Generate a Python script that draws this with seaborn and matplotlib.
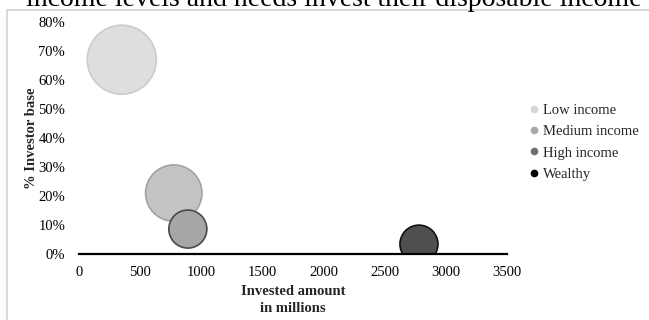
import matplotlib
matplotlib.use("Agg")
import matplotlib.pyplot as plt
import seaborn as sns
import pandas as pd
from matplotlib.ticker import PercentFormatter
from matplotlib.lines import Line2D

categories = ["Low income", "Medium income", "High income", "Wealthy"]
invested = [350, 775, 890, 2780]
investor_pct = [67, 21, 8.6, 3.4]
bubble_size = [33, 22, 10, 10]
fill_colors = ["#dedede", "#c4c4c4", "#a6a6a6", "#4f4f4f"]
edge_colors = ["#cccccc", "#a3a3a3", "#4a4a4a", "#111111"]
legend_colors = ["#d6d6d6", "#a8a8a8", "#707070", "#000000"]
x_ticks = [0, 500, 1000, 1500, 2000, 2500, 3000, 3500]
y_ticks = [0, 10, 20, 30, 40, 50, 60, 70, 80]

df = pd.DataFrame({"category": categories, "invested": invested,
                   "pct": investor_pct, "size": bubble_size})

sns.set_theme(style="white")
plt.rcParams["font.family"] = ["Liberation Serif", "DejaVu Serif"]

W, H = 649, 320
fig = plt.figure(figsize=(W / 100, H / 100), dpi=100)
ax = fig.add_axes([79 / W, 1 - 254 / H, (507 - 79) / W, (254 - 22) / H])

sns.scatterplot(data=df, x="invested", y="pct", hue="category",
                palette=dict(zip(categories, fill_colors)),
                size="size", sizes=(750, 2470), legend=False,
                edgecolor=edge_colors, linewidth=1.2, alpha=1, ax=ax, zorder=3)
for coll in ax.collections:
    coll.set_clip_on(True)
    coll.set_clip_box(ax.bbox)
    coll.set_clip_path(ax.patch)

ax.set_xlim(0, 3500)
ax.set_ylim(0, 80)
ax.set_xticks(x_ticks)
ax.set_yticks(y_ticks)
ax.yaxis.set_major_formatter(PercentFormatter(100, decimals=0))
ax.tick_params(axis="both", length=0, labelsize=10.5, colors="black")
ax.tick_params(axis="y", pad=10)
ax.tick_params(axis="x", pad=9)
for s in ["top", "right", "left"]:
    ax.spines[s].set_visible(False)
ax.spines["bottom"].set_color("black")
ax.spines["bottom"].set_linewidth(1.6)
ax.spines["bottom"].set_zorder(5)
ax.grid(False)

ax.set_xlabel("Invested amount\nin millions", fontsize=10.5, fontweight="bold",
              labelpad=4, linespacing=1.35)
ax.set_ylabel("% Investor base", fontsize=10.5, fontweight="bold", labelpad=0)

handles = [Line2D([0], [0], marker="o", linestyle="", markersize=4.5,
                  markerfacecolor=c, markeredgecolor=c) for c in legend_colors]
fig.legend(handles, categories, loc="upper left",
           bbox_to_anchor=(524 / W, 1 - 98 / H), frameon=False,
           fontsize=10.5, handlelength=0.6, handletextpad=0.3,
           labelspacing=0.55, borderaxespad=0)

fig.text(641 / W, 1 - 6 / H,
         "income levels and needs invest their disposable income",
         ha="right", va="baseline", fontsize=20, color="black")

fig.add_artist(Line2D([7 / W, 7 / W], [0, 1 - 10 / H], color="#d9d9d9", lw=1.5,
                      transform=fig.transFigure))
fig.add_artist(Line2D([7 / W, 1], [1 - 10 / H, 1 - 10 / H], color="#d9d9d9", lw=1.5,
                      transform=fig.transFigure))

fig.savefig("out.png", dpi=100)
